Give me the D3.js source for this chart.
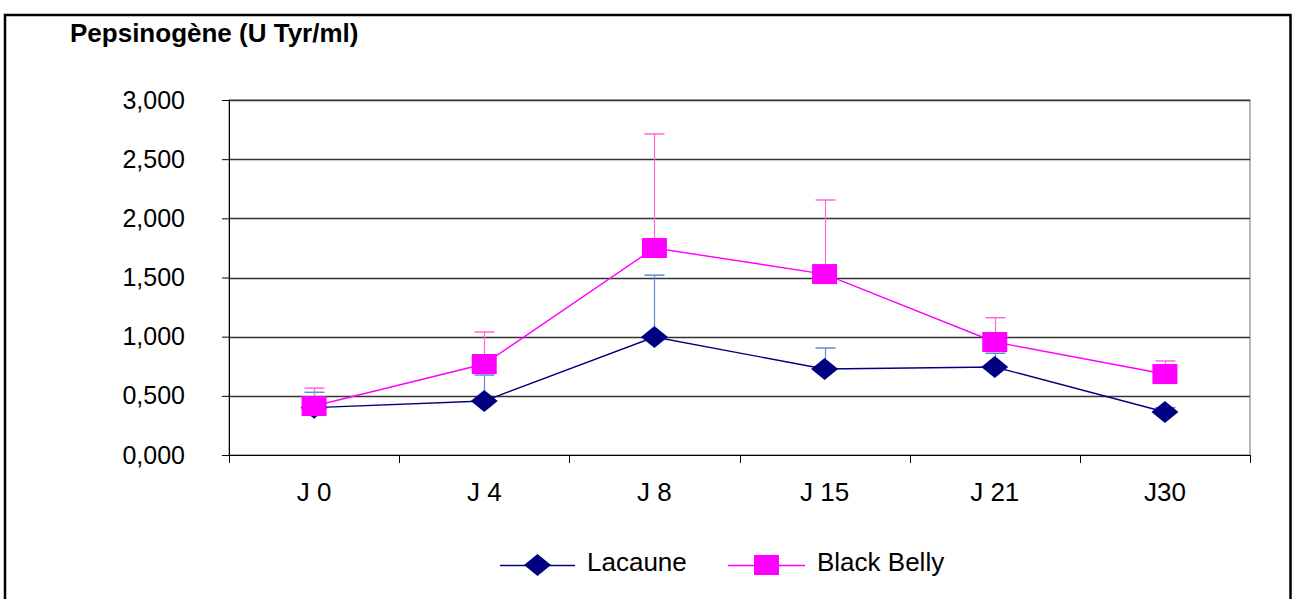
<!DOCTYPE html>
<html>
<head>
<meta charset="utf-8">
<script src="https://cdn.jsdelivr.net/npm/d3@7"></script>
<style>
  html, body { margin: 0; padding: 0; background: #fff; }
  svg { display: block; font-family: Arial, "Liberation Sans", sans-serif; }
</style>
</head>
<body>
<svg id="chart" width="1292" height="599"></svg>
<script>
// Sampling days
const days = ["J 0", "J 4", "J 8", "J 15", "J 21", "J30"];
// Mean pepsinogen (U Tyr/ml)
const lacaune = [0.400, 0.456, 0.997, 0.727, 0.744, 0.363];
const blackBelly = [0.414, 0.769, 1.749, 1.529, 0.955, 0.684];
// Upper end of the error bars (mean + SD)
const lacauneUpper = [0.530, 0.676, 1.520, 0.904, 0.860, 0.400];
const blackBellyUpper = [0.565, 1.039, 2.713, 2.155, 1.160, 0.795];
// Y-axis ticks
const yTicks = [0, 0.5, 1, 1.5, 2, 2.5, 3];

const svg = d3.select("#chart");
const plot = { left: 229, right: 1250, top: 100, bottom: 455 };
const FONT = "Arial, 'Liberation Sans', sans-serif";

const x = d3.scaleBand().domain(days).range([plot.left, plot.right]);
const y = d3.scaleLinear().domain([0, 3]).range([plot.bottom, plot.top]);
const fmt = v => d3.format(".3f")(v).replace(".", ",");

// Outer chart frame
svg.append("rect")
  .attr("x", 5).attr("y", 15).attr("width", 1285.5).attr("height", 600)
  .attr("fill", "none").attr("stroke", "#000").attr("stroke-width", 2.5);

// Title
svg.append("text")
  .attr("x", 70).attr("y", 42)
  .attr("font-size", 26).attr("font-weight", "bold")
  .text("Pepsinogène (U Tyr/ml)");

// Plot area frame
svg.append("rect")
  .attr("x", plot.left).attr("y", plot.top)
  .attr("width", plot.right - plot.left).attr("height", plot.bottom - plot.top)
  .attr("fill", "none").attr("stroke", "#888").attr("stroke-width", 1.2);

// Gridlines
svg.append("g").selectAll("line")
  .data(yTicks.filter(d => d > 0))
  .join("line")
  .attr("x1", plot.left).attr("x2", plot.right)
  .attr("y1", d => Math.round(y(d)) + 0.5).attr("y2", d => Math.round(y(d)) + 0.5)
  .attr("stroke", "#333").attr("stroke-width", 1.3);

// Y axis
const yAxis = svg.append("g")
  .attr("transform", `translate(${plot.left},0)`)
  .call(d3.axisLeft(y).tickValues(yTicks).tickFormat(fmt).tickSizeOuter(0).tickSize(7).tickPadding(37));
yAxis.select(".domain").attr("stroke", "#000");
yAxis.selectAll(".tick line").attr("stroke", "#000");
yAxis.selectAll("text").attr("font-size", 25).attr("fill", "#000").attr("font-family", FONT);

// X axis
const xAxis = svg.append("g")
  .attr("transform", `translate(0,${plot.bottom})`)
  .call(d3.axisBottom(x).tickSize(0).tickPadding(28));
xAxis.select(".domain").attr("stroke", "#000");
xAxis.selectAll("text").attr("font-size", 26).attr("fill", "#000").attr("font-family", FONT);
// Tick marks between categories
svg.append("g").selectAll("line")
  .data(d3.range(days.length + 1))
  .join("line")
  .attr("x1", i => Math.round(plot.left + i * x.step()) + 0.5)
  .attr("x2", i => Math.round(plot.left + i * x.step()) + 0.5)
  .attr("y1", plot.bottom).attr("y2", plot.bottom + 8)
  .attr("stroke", "#000");

const cx = d => x(d) + x.bandwidth() / 2;

const series = [
  { name: "Lacaune", values: lacaune, upper: lacauneUpper, color: "#000080", err: "#5b8fd0", shape: "diamond" },
  { name: "Black Belly", values: blackBelly, upper: blackBellyUpper, color: "#ff00ff", err: "#ff66dd", shape: "square" }
];

function marker(g, shape, color) {
  if (shape === "diamond") {
    g.append("path").attr("d", "M0,-11L13.5,0L0,11L-13.5,0Z").attr("fill", color);
  } else {
    g.append("rect").attr("x", -12.5).attr("y", -10).attr("width", 25).attr("height", 20).attr("fill", color);
  }
}

// Error bars (upper half only)
series.forEach(s => {
  const g = svg.append("g");
  days.forEach((d, i) => {
    const px = Math.round(cx(d)) + 0.5;
    g.append("line").attr("x1", px).attr("x2", px)
      .attr("y1", y(s.values[i])).attr("y2", y(s.upper[i]))
      .attr("stroke", s.err).attr("stroke-width", 1.2);
    g.append("line").attr("x1", px - 10).attr("x2", px + 10)
      .attr("y1", y(s.upper[i])).attr("y2", y(s.upper[i]))
      .attr("stroke", s.err).attr("stroke-width", 1.5);
  });
});

// Lines and markers
series.forEach(s => {
  const line = d3.line().x((v, i) => cx(days[i])).y(v => y(v));
  svg.append("path").datum(s.values)
    .attr("d", line).attr("fill", "none")
    .attr("stroke", s.color).attr("stroke-width", 1.4);
  s.values.forEach((v, i) => {
    const g = svg.append("g").attr("transform", `translate(${cx(days[i])},${y(v)})`);
    marker(g, s.shape, s.color);
  });
});

// Legend
const legend = [
  { s: series[0], x0: 500, x1: 575, tx: 587 },
  { s: series[1], x0: 728, x1: 805, tx: 817 }
];
legend.forEach(l => {
  svg.append("line").attr("x1", l.x0).attr("x2", l.x1).attr("y1", 565.5).attr("y2", 565.5)
    .attr("stroke", l.s.color).attr("stroke-width", 1.4);
  const g = svg.append("g").attr("transform", `translate(${(l.x0 + l.x1) / 2},565)`);
  marker(g, l.s.shape, l.s.color);
  svg.append("text").attr("x", l.tx).attr("y", 571)
    .attr("font-size", 26).text(l.s.name);
});
</script>
</body>
</html>
